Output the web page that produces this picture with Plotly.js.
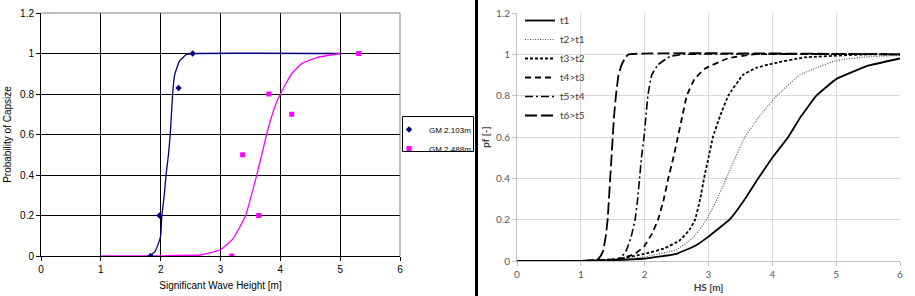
<!DOCTYPE html>
<html>
<head>
<meta charset="utf-8">
<script src="https://cdn.plot.ly/plotly-3.0.1.min.js"></script>
<style>html,body{margin:0;padding:0;background:#fff}#chart{width:915px;height:296px}</style>
</head>
<body>
<div id="chart"></div>
<script>
// ---- Left chart data ----
const gm1Name = "GM 2.103m";
const gm2Name = "GM 2.488m";
const gm1PtsX = [1.83, 1.98, 2.30, 2.535];
const gm1PtsY = [0, 0.2, 0.83, 1.0];
const gm2PtsX = [3.19, 3.37, 3.64, 3.81, 4.19, 5.31];
const gm2PtsY = [0, 0.5, 0.2, 0.8, 0.7, 1.0];
const gm1CurveX = [1.82, 1.9, 1.96, 2.0, 2.02, 2.06, 2.09, 2.13, 2.16, 2.18, 2.2, 2.23, 2.31, 2.43, 2.55, 5.0];
const gm1CurveY = [0, 0.02, 0.06, 0.1, 0.2, 0.3, 0.4, 0.5, 0.6, 0.7, 0.8, 0.89, 0.96, 0.995, 1.0, 1.0];
const gm2CurveX = [1.0, 2.0, 2.2, 2.66, 3.0, 3.21, 3.42, 3.58, 3.69, 3.77, 3.9, 4.0, 4.19, 4.36, 4.61, 5.0];
const gm2CurveY = [0, 0, 0.003, 0.005, 0.031, 0.086, 0.2, 0.37, 0.5, 0.6, 0.73, 0.8, 0.9, 0.95, 0.98, 1.0];
const leftXTicks = [0, 1, 2, 3, 4, 5, 6];
const leftYTicks = [0, 0.2, 0.4, 0.6, 0.8, 1, 1.2];

// ---- Right chart data ----
const seriesNames = ["t1", "t2>t1", "t3>t2", "t4>t3", "t5>t4", "t6>t5"];
const t1X = [0, 1, 1.5, 2, 2.5, 2.8, 3, 3.15, 3.33, 3.55, 3.78, 4.0, 4.25, 4.45, 4.69, 5.0, 5.5, 6];
const t1Y = [0, 0.001, 0.004, 0.012, 0.035, 0.075, 0.118, 0.155, 0.2, 0.29, 0.4, 0.5, 0.6, 0.7, 0.8, 0.88, 0.945, 0.98];
const t2X = [0, 1, 1.5, 2, 2.5, 2.75, 2.97, 3.12, 3.28, 3.42, 3.57, 3.8, 4.07, 4.43, 5.0, 5.5, 6];
const t2Y = [0, 0.001, 0.005, 0.02, 0.055, 0.11, 0.2, 0.29, 0.4, 0.5, 0.6, 0.7, 0.8, 0.9, 0.97, 0.988, 0.995];
const t3X = [0, 1, 1.6, 2, 2.3, 2.55, 2.7, 2.79, 2.87, 2.93, 3.0, 3.07, 3.18, 3.31, 3.54, 3.75, 4.0, 4.5, 5.5, 6];
const t3Y = [0, 0, 0.01, 0.035, 0.06, 0.1, 0.15, 0.2, 0.3, 0.4, 0.5, 0.6, 0.7, 0.8, 0.9, 0.935, 0.955, 0.985, 1.0, 1.0];
const t4X = [0, 1, 1.6, 1.85, 1.99, 2.11, 2.21, 2.3, 2.37, 2.45, 2.52, 2.59, 2.66, 2.78, 2.94, 3.3, 3.7, 6];
const t4Y = [0, 0, 0.01, 0.035, 0.07, 0.13, 0.2, 0.3, 0.4, 0.5, 0.6, 0.7, 0.8, 0.88, 0.93, 0.98, 1.0, 1.0];
const t5X = [0, 1, 1.55, 1.65, 1.71, 1.79, 1.85, 1.89, 1.92, 1.95, 1.99, 2.02, 2.05, 2.11, 2.21, 2.4, 2.6, 6];
const t5Y = [0, 0, 0.005, 0.025, 0.05, 0.12, 0.2, 0.3, 0.4, 0.5, 0.6, 0.7, 0.8, 0.9, 0.95, 0.99, 1.0, 1.0];
const t6X = [0, 1, 1.25, 1.3, 1.35, 1.39, 1.42, 1.44, 1.46, 1.48, 1.5, 1.52, 1.55, 1.59, 1.64, 1.7, 1.75, 6];
const t6Y = [0, 0, 0.005, 0.02, 0.05, 0.12, 0.2, 0.3, 0.4, 0.5, 0.6, 0.7, 0.8, 0.9, 0.95, 0.985, 1.0, 1.0];
const rightXTicks = [0, 1, 2, 3, 4, 5, 6];
const rightYTicks = [0, 0.2, 0.4, 0.6, 0.8, 1, 1.2];

const W = 915, H = 296;
const px = v => v / W;
const py = v => 1 - v / H;

const arial = "Liberation Sans, Arial, sans-serif";
const cal = "Lato, Open Sans, sans-serif";

const traces = [
  {x: gm1CurveX, y: gm1CurveY, mode: "lines", line: {color: "#000080", width: 1.3, shape: "spline", smoothing: 0.4}, showlegend: false, xaxis: "x", yaxis: "y", hoverinfo: "skip"},
  {x: gm2CurveX, y: gm2CurveY, mode: "lines", line: {color: "#FF00FF", width: 1.3, shape: "spline", smoothing: 0.4}, showlegend: false, xaxis: "x", yaxis: "y", hoverinfo: "skip"},
  {x: gm1PtsX, y: gm1PtsY, name: gm1Name, mode: "markers", marker: {symbol: "diamond", color: "#000080", size: 5}, xaxis: "x", yaxis: "y", legend: "legend"},
  {x: gm2PtsX, y: gm2PtsY, name: gm2Name, mode: "markers", marker: {symbol: "square", color: "#FF00FF", size: 5}, xaxis: "x", yaxis: "y", legend: "legend"}
];

const rX = [t1X, t2X, t3X, t4X, t5X, t6X];
const rY = [t1Y, t2Y, t3Y, t4Y, t5Y, t6Y];
const rStyle = [
  {color: "#000000", width: 1.8, dash: "solid"},
  {color: "#555555", width: 1.2, dash: "1px,1.5px"},
  {color: "#000000", width: 1.8, dash: "3px,2px"},
  {color: "#000000", width: 1.8, dash: "6px,4px"},
  {color: "#000000", width: 1.6, dash: "8px,3px,2px,3px"},
  {color: "#000000", width: 1.8, dash: "12px,4px"}
];
for (let i = 0; i < seriesNames.length; i++) {
  traces.push({x: rX[i], y: rY[i], name: seriesNames[i], mode: "lines",
    line: Object.assign({shape: "spline", smoothing: 0.3}, rStyle[i]),
    xaxis: "x2", yaxis: "y2", legend: "legend2"});
}

const layout = {
  width: W, height: H,
  margin: {l: 0, r: 0, t: 0, b: 0},
  paper_bgcolor: "#ffffff", plot_bgcolor: "#ffffff",
  showlegend: true,
  xaxis: {
    domain: [px(41), px(400)], range: [0, 6], tickvals: leftXTicks, ticktext: leftXTicks.map(String),
    showgrid: true, gridcolor: "#000000", gridwidth: 1, zeroline: false,
    showline: true, linecolor: "#000000", linewidth: 1, mirror: false,
    ticks: "outside", ticklen: 4, tickcolor: "#000000",
    tickfont: {family: arial, size: 10, color: "#000000"},
    title: {text: "Significant Wave Height [m]", font: {family: arial, size: 10, color: "#000000"}, standoff: 7},
    anchor: "y"
  },
  yaxis: {
    domain: [1 - 256 / H, 1 - 13 / H], range: [0, 1.2], tickvals: leftYTicks, ticktext: ["0", "0.2", "0.4", "0.6", "0.8", "1", "1.2"],
    showgrid: true, gridcolor: "#000000", gridwidth: 1, zeroline: false,
    showline: true, linecolor: "#000000", linewidth: 1,
    ticks: "outside", ticklen: 4, tickcolor: "#000000",
    tickfont: {family: arial, size: 10, color: "#000000"},
    title: {text: "Probability of Capsize", font: {family: arial, size: 10, color: "#000000"}, standoff: 6},
    anchor: "x"
  },
  xaxis2: {
    domain: [px(517), px(900)], range: [0, 6], tickvals: rightXTicks, ticktext: rightXTicks.map(String),
    showgrid: true, gridcolor: "#d9d9d9", gridwidth: 1, zeroline: false,
    showline: true, linecolor: "#bfbfbf", linewidth: 1,
    ticks: "outside", ticklen: 4, tickcolor: "#bfbfbf",
    tickfont: {family: cal, size: 10, color: "#595959"},
    title: {text: "<b>HS [m]</b>", font: {family: cal, size: 10, color: "#404040"}, standoff: 4},
    anchor: "y2"
  },
  yaxis2: {
    domain: [1 - 261 / H, 1 - 13 / H], range: [0, 1.2], tickvals: rightYTicks, ticktext: ["0", "0.2", "0.4", "0.6", "0.8", "1", "1.2"],
    showgrid: true, gridcolor: "#d9d9d9", gridwidth: 1, zeroline: false,
    showline: true, linecolor: "#bfbfbf", linewidth: 1,
    ticks: "outside", ticklen: 4, tickcolor: "#bfbfbf",
    tickfont: {family: cal, size: 10, color: "#595959"},
    title: {text: "<b>pf [-]</b>", font: {family: cal, size: 10, color: "#404040"}, standoff: 4},
    anchor: "x2"
  },
  legend: {
    x: px(404), y: py(115), xanchor: "left", yanchor: "top",
    borderwidth: 0, bgcolor: "rgba(255,255,255,0)",
    font: {family: arial, size: 8, color: "#000000"},
    itemwidth: 30, tracegroupgap: 0, indentation: -15
  },
  legend2: {
    x: px(520), y: py(6), xanchor: "left", yanchor: "top",
    bgcolor: "rgba(255,255,255,0)", borderwidth: 0,
    font: {family: cal, size: 10, color: "#404040"},
    itemwidth: 30, tracegroupgap: 0
  },
  shapes: [
    {type: "line", xref: "paper", yref: "paper", x0: px(41), x1: px(400), y0: py(13), y1: py(13), line: {color: "#808080", width: 1}},
    {type: "line", xref: "paper", yref: "paper", x0: px(400), x1: px(400), y0: py(13), y1: py(256), line: {color: "#808080", width: 1}},
    {type: "rect", xref: "paper", yref: "paper", x0: px(402.5), x1: px(473.5), y0: py(116.5), y1: py(151.5), line: {color: "#000000", width: 1}, fillcolor: "rgba(0,0,0,0)"},
    {type: "line", xref: "paper", yref: "paper", x0: px(476.5), x1: px(476.5), y0: 0, y1: 1, line: {color: "#000000", width: 3}}
  ]
};

Plotly.newPlot("chart", traces, layout, {displayModeBar: false, staticPlot: true});
</script>
</body>
</html>
